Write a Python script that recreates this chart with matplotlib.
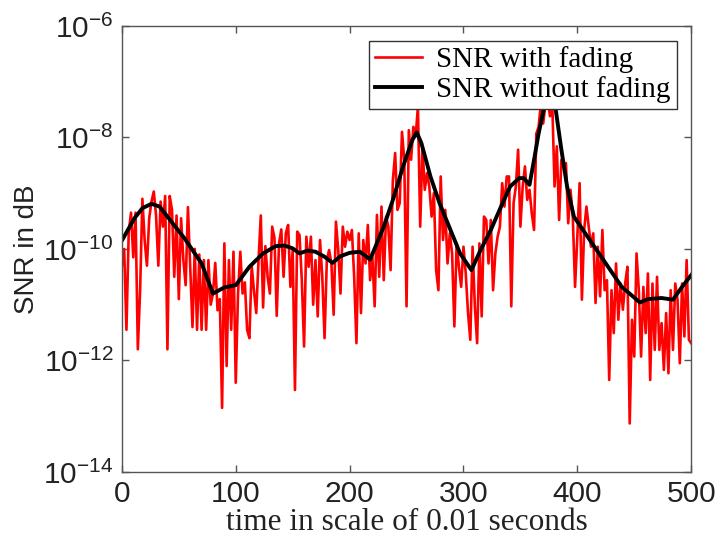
import numpy as np
import matplotlib
matplotlib.use("Agg")
import matplotlib.pyplot as plt
from matplotlib.ticker import FixedLocator, FuncFormatter, NullLocator

# SNR with fading, log10 values, sampled every 2 time steps (0..500)
t_fading = np.arange(0, 501, 2)
snr_fading_log10 = [
    -10.3, -10.0, -11.45, -9.7, -9.35, -10.15, -9.35, -11.8, -10.75, -9.1,
    -9.85, -10.3, -9.45, -9.15, -8.97, -9.4, -10.3, -9.15, -9.6, -9.05,
    -11.8, -9.05, -9.3, -10.5, -9.4, -10.9, -9.45, -10.2, -10.65, -9.25,
    -10.3, -11.4, -10.0, -11.45, -10.1, -11.45, -10.2, -11.45, -10.2, -11.0,
    -10.8, -10.25, -11.1, -10.9, -12.85, -9.9, -12.1, -10.2, -11.45, -10.05,
    -12.4,
    -10.8, -10.05, -10.8, -10.6, -11.45, -11.6, -10.3, -10.75, -11.15, -10.2,
    -9.4, -11.05, -9.95, -10.5, -10.8, -9.6, -9.8, -11.2, -9.9, -9.65,
    -10.5, -9.72, -9.57, -10.68, -10.02, -12.53, -9.69, -9.75, -10.55, -11.75,
    -9.78, -10.32, -9.78, -11.0, -10.2, -11.21, -9.84, -10.5, -11.6, -10.2,
    -10.02, -10.26, -11.18, -9.51, -10.02, -10.8, -9.6, -9.96, -9.69, -9.84,
    -9.66, -10.5, -11.69, -9.72, -11.15, -9.84, -10.26, -9.57, -10.56, -10.14,
    -11.03, -9.39, -10.5, -9.24, -10.56, -9.42, -9.6, -10.38, -8.76, -8.28,
    -9.3, -9.18, -7.9, -8.4, -11.03, -7.87, -8.4, -7.81, -7.98, -7.45,
    -9.6, -8.16, -8.94, -8.64, -8.88, -9.42, -9.0, -10.38, -10.74, -8.7,
    -9.84, -9.3, -10.26, -9.72, -10.08, -11.39, -9.9, -10.32, -10.68, -9.96,
    -10.44, -11.15, -11.63, -9.96, -11.03, -11.69, -9.9, -11.21, -9.42, -9.48,
    -10.26, -9.48, -10.74, -10.08, -9.78, -9.6, -8.82, -9.24, -8.7, -8.7,
    -11.03, -9.18, -8.88, -8.22, -9.6, -8.88, -8.52, -9.12, -8.94, -9.36,
    -9.66, -7.93, -7.81, -7.4, -7.75, -7.4, -7.3, -7.62, -7.4, -8.88,
    -8.16, -9.48, -8.4, -8.52, -8.46, -9.54, -8.94, -9.42, -10.68, -9.78,
    -8.82, -10.91, -9.66, -9.24, -9.6, -9.96, -9.72, -10.97, -9.96, -10.85,
    -9.66, -10.74, -10.56, -12.35, -10.74, -11.51, -10.26, -11.27, -10.62, -11.09,
    -10.62, -10.32, -13.13, -11.27, -11.93, -10.08, -10.74, -11.93, -10.68, -11.51,
    -10.44, -12.35, -10.62, -11.81, -10.5, -11.81, -11.33, -12.17, -11.15, -12.23,
    -10.74, -11.81, -10.62, -10.91, -12.05, -10.62, -11.57, -10.2, -11.63, -11.69,
]

# SNR without fading, log10 values at read-off time points
t_clean = [0, 11, 18, 26, 33, 40, 55, 70, 80, 90, 100, 112, 124, 135, 143,
           150, 156, 163, 170, 178, 185, 192, 200, 209, 218, 230, 238, 247,
           255, 259, 263, 271, 279, 288, 297, 307, 315, 324, 333, 341, 349,
           353, 358, 362, 366, 371, 376, 381, 386, 391, 397, 405, 415, 427,
           439, 455, 462, 474, 484, 492, 500]
snr_clean_log10 = [-9.85, -9.45, -9.27, -9.19, -9.24, -9.42, -9.81, -10.26,
                   -10.8, -10.69, -10.65, -10.32, -10.08, -9.95, -9.94, -9.99,
                   -10.08, -10.03, -10.05, -10.14, -10.25, -10.13, -10.07,
                   -10.05, -10.19, -9.6, -9.12, -8.52, -8.05, -7.91, -8.1,
                   -8.7, -9.18, -9.63, -10.08, -10.38, -10.02, -9.66, -9.24,
                   -8.88, -8.73, -8.73, -8.85, -8.4, -7.93, -7.45, -7.2, -7.5,
                   -8.22, -8.88, -9.42, -9.66, -9.96, -10.32, -10.68, -10.96,
                   -10.9, -10.88, -10.91, -10.68, -10.47]

x_ticks = [0, 100, 200, 300, 400, 500]
y_exponents = [-14, -12, -10, -8, -6]

plt.rcParams['font.family'] = ['Liberation Sans', 'DejaVu Sans']
plt.rcParams['mathtext.fontset'] = 'custom'
plt.rcParams['mathtext.rm'] = 'Liberation Sans'
plt.rcParams['mathtext.it'] = 'Liberation Sans'

fig = plt.figure(figsize=(7.17, 5.40), dpi=100)
ax = fig.add_axes([0.170, 0.126, 0.794, 0.826])

ax.plot(t_fading, 10.0 ** np.array(snr_fading_log10), color='#ff0000', lw=1.9,
        label='SNR with fading')
ax.plot(t_clean, 10.0 ** np.array(snr_clean_log10), color='black', lw=2.8,
        label='SNR without fading')

ax.set_yscale('log')
ax.set_xlim(0, 500)
ax.set_ylim(1e-14, 1e-6)
ax.xaxis.set_major_locator(FixedLocator(x_ticks))
ax.yaxis.set_major_locator(FixedLocator([10.0 ** e for e in y_exponents]))
ax.yaxis.set_minor_locator(NullLocator())
ax.yaxis.set_major_formatter(FuncFormatter(
    lambda v, pos: r'$\mathregular{10^{%d}}$' % round(np.log10(v))))

for s in ax.spines.values():
    s.set_color('#555555')
    s.set_linewidth(1.0)
ax.tick_params(which='both', direction='in', length=5, width=1,
               top=True, right=True, colors='#555555',
               labelcolor='#222222', labelsize=21.5, pad=6)

ax.set_ylabel('SNR in dB', fontsize=20, color='#222222', labelpad=2)
ax.set_xlabel('time in scale of 0.01 seconds', fontsize=22.5,
              fontfamily='Liberation Serif', color='#222222', labelpad=0)

leg = ax.legend(loc='upper right', prop={'family': 'Liberation Serif', 'size': 21},
                fancybox=False, framealpha=1, edgecolor='#333333',
                handlelength=1.6, handletextpad=0.5, labelspacing=0.1,
                borderpad=0.2, borderaxespad=0.5)
leg.get_frame().set_linewidth(1.0)

fig.savefig('out.png', dpi=100)
